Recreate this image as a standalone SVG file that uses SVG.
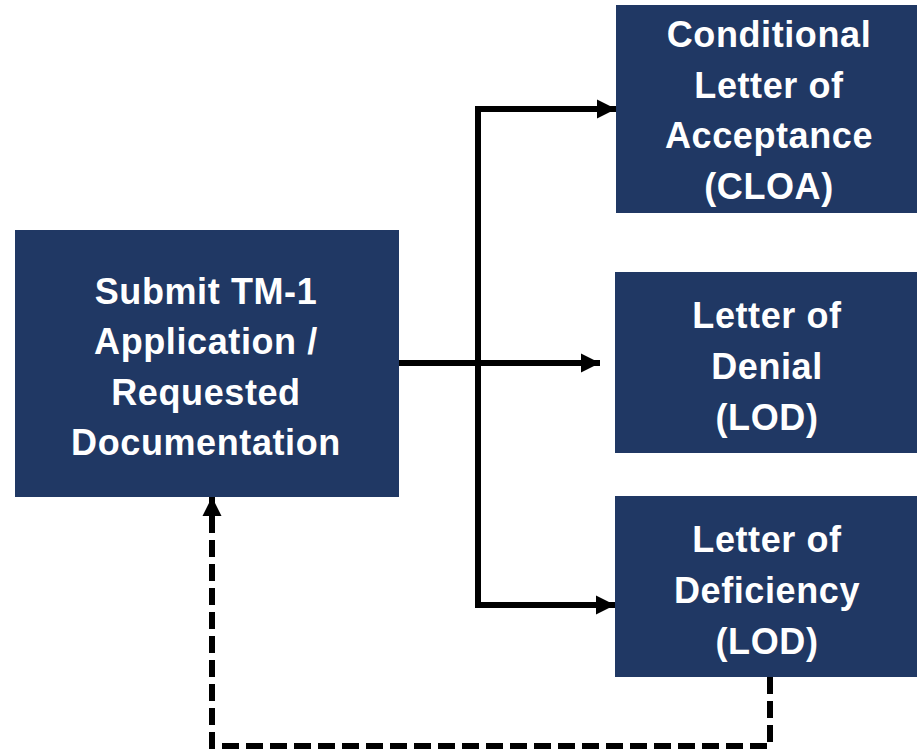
<svg xmlns="http://www.w3.org/2000/svg" width="917" height="752" viewBox="0 0 917 752">
<style>
.box{fill:#203864;}
.t{font-family:"Liberation Sans",Arial,sans-serif;font-weight:bold;font-size:36px;letter-spacing:0.6px;fill:#ffffff;text-anchor:middle;}
.ln{fill:none;stroke:#000;stroke-width:6;}
.dash{fill:none;stroke:#000;stroke-width:6;stroke-dasharray:17 7;}
</style>
<defs>
<marker id="ah" viewBox="0 0 10 10" refX="10" refY="5" markerWidth="3.2" markerHeight="3.2" orient="auto" markerUnits="strokeWidth">
<path d="M0,0 L10,5 L0,10 z" fill="#000"/>
</marker>
</defs>
<rect width="917" height="752" fill="#fff"/>
<g id="submit">
<rect class="box" x="15" y="230" width="384" height="267"/>
<text class="t" x="206" y="304">Submit TM-1</text>
<text class="t" x="206" y="354">Application /</text>
<text class="t" x="206" y="405">Requested</text>
<text class="t" x="206" y="455">Documentation</text>
</g>
<g id="cloa">
<rect class="box" x="616" y="5" width="302" height="208"/>
<text class="t" x="769" y="47">Conditional</text>
<text class="t" x="769" y="98">Letter of</text>
<text class="t" x="769" y="148">Acceptance</text>
<text class="t" x="769" y="199">(CLOA)</text>
</g>
<g id="denial">
<rect class="box" x="615" y="272" width="303" height="181"/>
<text class="t" x="767" y="328">Letter of</text>
<text class="t" x="767" y="379">Denial</text>
<text class="t" x="767" y="430">(LOD)</text>
</g>
<g id="deficiency">
<rect class="box" x="615" y="496" width="303" height="181"/>
<text class="t" x="767" y="552">Letter of</text>
<text class="t" x="767" y="603">Deficiency</text>
<text class="t" x="767" y="654">(LOD)</text>
</g>
<g id="connectors">
<path class="ln" d="M399,363 L600,363" marker-end="url(#ah)"/>
<path class="ln" d="M478,363 L478,109 L616,109" marker-end="url(#ah)"/>
<path class="ln" d="M478,363 L478,605 L615,605" marker-end="url(#ah)"/>
<path class="dash" d="M770,677 L770,746 L212,746 L212,497" marker-end="url(#ah)"/>
</g>
</svg>
